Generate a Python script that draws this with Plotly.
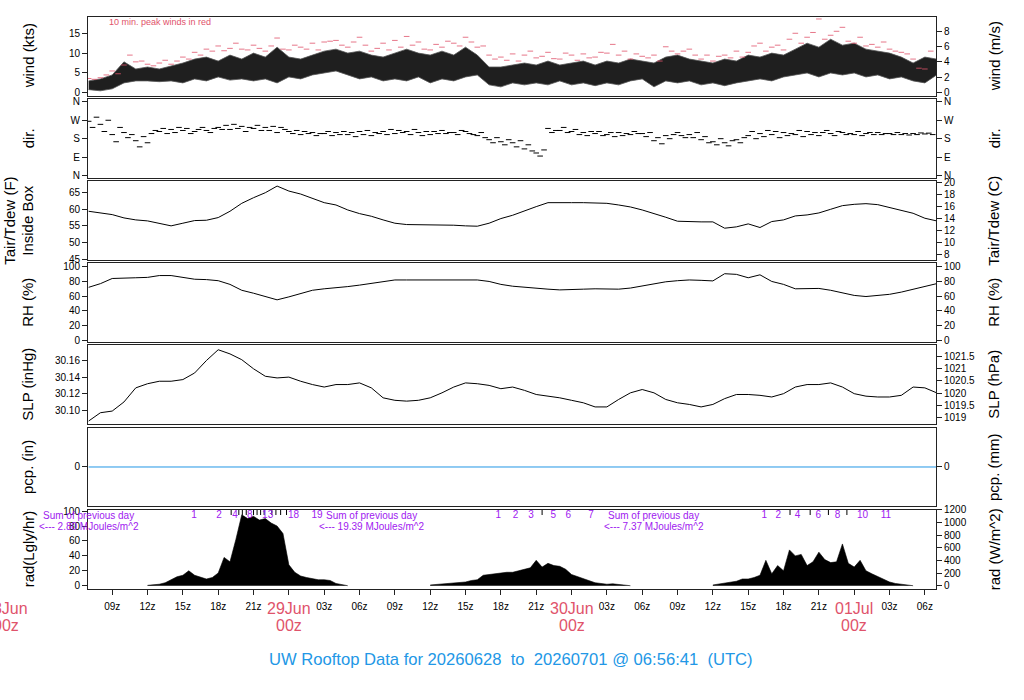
import pandas as pd
import plotly.graph_objects as go

# time base (UTC)
hours = pd.date_range("2026-06-28 07:00", periods=73, freq="h")
half_hours = pd.date_range("2026-06-28 07:00", periods=144, freq="30min")
dir_hours = pd.date_range("2026-06-28 07:00", periods=72, freq="h")
t_start = pd.Timestamp("2026-06-28 06:56:41")
t_end = pd.Timestamp("2026-07-01 06:56:41")

# wind speed (kts), hourly low / high of the 1-min trace
wind_lo = [0.8, 0.5, 1.0, 2.5, 3.0, 3.0, 2.8, 3.0, 2.5, 3.5,
           3.0, 4.0, 3.2, 3.5, 3.0, 3.5, 2.5, 4.0, 3.5, 4.5,
           5.0, 5.5, 4.5, 3.5, 4.0, 3.0, 3.5, 3.0, 4.0, 2.5,
           3.5, 3.0, 4.0, 4.5, 2.0, 1.5, 2.5, 2.0, 2.5, 2.0,
           3.0, 2.0, 2.5, 1.8, 2.5, 2.0, 3.0, 3.5, 1.5, 3.0,
           2.5, 3.0, 2.0, 2.5, 1.8, 2.5, 3.0, 3.5, 3.0, 4.0,
           4.5, 5.0, 4.0, 5.0, 4.5, 5.0, 4.0, 4.5, 3.5, 4.0,
           3.0, 2.5, 4.5]
wind_hi = [3.0, 3.5, 4.5, 7.8, 6.0, 6.5, 6.0, 6.8, 7.5, 8.5,
           9.0, 8.0, 9.5, 8.5, 10.0, 9.0, 11.5, 9.0, 8.5, 9.5,
           10.5, 11.0, 10.0, 10.5, 9.5, 9.0, 10.0, 11.0, 10.0, 9.5,
           10.5, 9.5, 11.5, 9.5, 6.5, 6.5, 7.0, 7.5, 7.0, 8.0,
           7.0, 7.5, 8.0, 7.0, 8.0, 7.5, 8.5, 8.0, 7.5, 9.0,
           9.5, 8.5, 8.0, 7.5, 8.5, 8.0, 9.5, 9.0, 10.0, 9.5,
           11.0, 12.5, 11.5, 13.5, 12.0, 12.5, 11.0, 10.5, 10.0, 9.0,
           7.5, 9.0, 8.5]
# 10 min peak winds (kts), every 30 min
peak_wind = [3.6, 3.4, 3.8, 4.5, 5.5, 4.8, 7.0, 9.5, 7.8, 8.0, 7.2, 6.8, 7.5, 8.2, 7.2, 8.0, 9.0, 8.5, 10.2, 9.5,
             11.0, 10.5, 11.8, 10.6, 11.2, 12.5, 11.0, 10.8, 12.0, 11.2, 10.5, 11.8, 13.8, 11.0, 10.8, 12.0, 11.5, 11.0, 12.5, 10.8,
             12.8, 13.0, 13.2, 12.0, 11.5, 12.8, 14.0, 12.0, 10.5, 11.2, 12.5, 10.8, 13.2, 11.5, 14.2, 12.0, 12.8, 11.0, 10.8, 12.2,
             11.5, 13.0, 12.5, 11.8, 14.0, 12.8, 11.5, 11.8, 9.5, 8.5, 9.0, 8.2, 9.8, 8.0, 9.5, 10.5, 8.8, 9.2, 10.2, 8.6,
             8.5, 10.0, 9.5, 8.2, 9.8, 8.8, 9.0, 10.2, 10.0, 12.2, 9.5, 10.5, 8.5, 9.8, 9.2, 8.8, 9.5, 8.0, 11.6, 10.5,
             9.8, 10.5, 11.0, 9.5, 8.5, 9.5, 8.0, 9.2, 9.5, 8.8, 10.5, 9.0, 10.2, 11.8, 12.5, 10.5, 11.5, 12.0, 10.8, 13.5,
             15.0, 12.5, 14.0, 15.2, 18.6, 13.5, 14.5, 15.5, 16.5, 13.0, 12.5, 14.0, 11.8, 12.2, 11.5, 12.8, 11.0, 10.5, 10.2, 9.8,
             8.5, 6.2, 6.0, 10.5]

# wind direction (deg), samples at :00, :20 and :40 of each hour
dir_a = [265, 250, 200, 210, 170, 160, 215, 225, 220, 215,
         220, 235, 225, 240, 230, 235, 210, 215, 200, 210,
         205, 210, 200, 215, 195, 215, 205, 215, 210, 200,
         220, 210, 215, 195, 175, 165, 160, 130, 110, 230,
         220, 215, 210, 205, 200, 210, 200, 205, 170, 195,
         210, 200, 175, 165, 160, 175, 195, 205, 200, 210,
         200, 215, 195, 205, 210, 200, 205, 210, 205, 200,
         205, 203]
dir_b = [235, 215, 165, 185, 140, 205, 230, 210, 230, 225,
         210, 225, 250, 215, 245, 220, 235, 205, 215, 195,
         215, 200, 210, 200, 210, 200, 220, 200, 195, 215,
         205, 200, 205, 210, 160, 150, 140, 150, 95, 210,
         235, 225, 195, 215, 210, 195, 215, 190, 185, 180,
         195, 185, 190, 150, 145, 160, 215, 190, 215, 195,
         220, 200, 210, 195, 200, 215, 210, 200, 200, 205,
         200, 207]
dir_c = [285, 270, 235, 200, 190, 220, 205, 235, 205, 235,
         230, 245, 230, 235, 220, 240, 225, 220, 205, 205,
         195, 215, 190, 220, 205, 225, 210, 225, 215, 205,
         210, 220, 200, 185, 185, 175, 170, 120, 125, 220,
         210, 200, 215, 195, 190, 205, 205, 210, 155, 200,
         185, 210, 160, 180, 170, 185, 180, 220, 185, 205,
         190, 210, 220, 215, 205, 195, 200, 205, 210, 198,
         208, 200]

# air temperature inside box (F)
temp_f = [59.4, 58.8, 58.4, 57.4, 56.8, 56.5, 55.8, 55.0, 55.8, 56.6,
          56.7, 57.5, 59.4, 61.8, 63.5, 65.0, 67.0, 65.5, 64.6, 63.2,
          62.0, 61.3, 59.8, 58.7, 57.9, 56.8, 55.8, 55.4, 55.4, 55.4,
          55.3, 55.2, 55.0, 54.9, 55.8, 57.2, 58.2, 59.6, 60.8, 62.0,
          62.1, 62.0, 62.0, 62.0, 61.8, 61.3, 60.7, 59.8, 58.8, 57.6,
          56.4, 56.2, 56.2, 56.2, 54.3, 54.7, 55.6, 54.5, 56.3, 56.8,
          58.0, 58.3, 58.9, 60.0, 61.1, 61.5, 61.7, 61.4, 60.6, 59.8,
          58.8, 57.3, 56.5]
# relative humidity (%)
rh = [72, 77, 84, 85, 85, 85.5, 88, 88, 85, 83,
      82.5, 81, 76, 68, 64, 59, 55, 59, 64, 68,
      70, 71, 73, 75, 77, 80, 82, 82, 82, 82,
      82.5, 83, 83, 82, 80, 76, 73.5, 72, 70.5, 69.5,
      68.5, 68.5, 69.5, 70, 69.5, 69.5, 71, 74, 77, 79.5,
      81, 82, 81.5, 80.7, 90.5, 89.6, 85, 89, 80, 76,
      70, 70, 70.5, 68, 65, 61, 59.5, 60.5, 62.5, 65.5,
      69, 73, 77]
# sea level pressure (inHg)
slp = [30.087, 30.097, 30.099, 30.110, 30.127, 30.132, 30.135, 30.135, 30.137, 30.145,
       30.160, 30.173, 30.168, 30.161, 30.150, 30.141, 30.139, 30.140, 30.135, 30.131,
       30.128, 30.131, 30.131, 30.133, 30.127, 30.115, 30.112, 30.111, 30.112, 30.115,
       30.121, 30.128, 30.133, 30.132, 30.130, 30.126, 30.128, 30.124, 30.119, 30.117,
       30.115, 30.112, 30.109, 30.104, 30.104, 30.113, 30.121, 30.125, 30.121, 30.113,
       30.109, 30.107, 30.104, 30.107, 30.114, 30.119, 30.119, 30.118, 30.116, 30.120,
       30.128, 30.131, 30.131, 30.133, 30.128, 30.120, 30.117, 30.116, 30.116, 30.118,
       30.128, 30.127, 30.121]
# precipitation (in) - none fell
pcp_in = [0.0] * 73

# solar radiation (Langley/hr), every 30 min from 12z each day
rad_start = ["2026-06-28 12:00", "2026-06-29 12:00", "2026-06-30 12:00"]
rad_day1 = [0.5, 1, 2, 4, 8, 12, 14, 20, 14, 12,
            9, 11, 17, 38, 32, 62, 95, 90, 93, 88,
            90, 84, 80, 70, 28, 18, 13, 11, 9, 8,
            8, 7, 3, 1, 0]
rad_day2 = [1, 1.5, 2, 2.5, 3, 4, 5, 7, 8, 14,
            15, 17, 17, 18, 18, 20, 22, 24, 34, 25,
            30, 27, 26, 22, 15, 12, 9, 7, 4, 3,
            2, 2.5, 1.5, 0.5, 0]
rad_day3 = [1, 2, 3, 5, 6, 9, 9, 11, 14, 34,
            16, 27, 20, 48, 40, 42, 27, 32, 45, 35,
            31, 32, 56, 30, 25, 34, 20, 16, 12, 8,
            5, 3, 2, 1, 0]

# running daily total (MJ/m^2) marks: hours after 28Jun 00z
mj_hours = [15.95, 18.08, 19.1, 19.43, 19.75, 20.05, 20.38, 20.68, 21.0, 21.3,
            21.6, 21.9, 22.2, 22.55, 22.9, 23.3, 23.8, 24.4, 26.4,
            41.78, 43.25, 44.55, 45.5, 46.45, 47.72, 49.65,
            64.37, 65.56, 66.55, 67.18, 68.26, 68.96, 69.81, 70.58, 71.38, 72.7, 74.69]
mj_labels = ["1", "2", "", "4", "", "", "", "8", "", "",
             "", "", "13", "", "", "", "", "18", "19",
             "1", "2", "3", "", "5", "6", "7",
             "1", "2", "", "4", "", "6", "", "8", "", "10", "11"]
sum_times = ["2026-06-28 07:00", "2026-06-29 07:00", "2026-06-30 07:00"]
sum_mj = [2.80, 19.39, 7.37]

KTS_TO_MS = 0.514444
INHG_TO_HPA = 33.8639
LY_TO_WM2 = 11.78
RED = "#DF536B"
PURPLE = "#A020F0"
BLUE = "#2297E6"
FONT = "Liberation Sans"

# panel frames in pixel rows, top to bottom
frames = [(14, 93), (96, 176), (179.3, 258.3), (261.7, 341), (344, 423.3), (426.7, 506), (509.3, 589)]
TOP, BOT, LEFT, RIGHT = 14, 589, 88, 936


def ydom(a, b):
    return [(BOT - b) / (BOT - TOP), (BOT - a) / (BOT - TOP)]


def px_x(px):
    return (px - LEFT) / (RIGHT - LEFT)


def px_y(py):
    return (BOT - py) / (BOT - TOP)


def paper_x(t):
    return (pd.Timestamp(t) - t_start) / (t_end - t_start)


def f2c(v):
    return (v - 32) / 1.8


wind_rng = [-0.7, 19.1]
dir_rng = [-13, 376]
temp_rng = [44.7, 68.4]
rh_rng = [-2.7, 104.5]
slp_rng = [30.0832, 30.1784]
pcp_rng = [-1, 1]
rad_rng = [-4.4, 101.9]

panels = [
    # left range, left ticks, left text, right range, right ticks, right text
    (wind_rng, [0, 5, 10, 15], None,
     [v * KTS_TO_MS for v in wind_rng], [0, 2, 4, 6, 8], None),
    (dir_rng, [0, 90, 180, 270, 360], ["N", "E", "S", "W", "N"],
     dir_rng, [0, 90, 180, 270, 360], ["N", "E", "S", "W", "N"]),
    (temp_rng, [45, 50, 55, 60, 65], None,
     [f2c(v) for v in temp_rng], [8, 10, 12, 14, 16, 18, 20], None),
    (rh_rng, [0, 20, 40, 60, 80, 100], None,
     rh_rng, [0, 20, 40, 60, 80, 100], None),
    (slp_rng, [30.10, 30.12, 30.14, 30.16], ["30.10", "30.12", "30.14", "30.16"],
     [v * INHG_TO_HPA for v in slp_rng], [1019, 1019.5, 1020, 1020.5, 1021, 1021.5],
     ["1019", "1019.5", "1020", "1020.5", "1021", "1021.5"]),
    (pcp_rng, [0], None, [v * 25.4 for v in pcp_rng], [0], None),
    (rad_rng, [0, 20, 40, 60, 80, 100], None,
     [v * LY_TO_WM2 for v in rad_rng], [0, 200, 400, 600, 800, 1000, 1200], None),
]

fig = go.Figure()
layout = {}
tick_font = dict(family=FONT, size=10, color="black")

xt = pd.date_range("2026-06-28 09:00", "2026-07-01 06:00", freq="3h")
xt_text = ["" if t.hour == 0 else "%02dz" % t.hour for t in xt]

for i, (lr, lt, ltt, rr, rt, rtt) in enumerate(panels, start=1):
    xid = "x" if i == 1 else "x%d" % i
    yid = "y" if i == 1 else "y%d" % i
    bottom = i == 7
    xa = dict(type="date", range=[t_start, t_end], anchor=yid,
              showline=True, mirror=True, linecolor="#222", linewidth=1,
              showgrid=False, zeroline=False, showticklabels=bottom,
              ticks="outside" if bottom else "", ticklen=5, tickcolor="#222",
              tickvals=xt, ticktext=xt_text, tickfont=tick_font, ticklabelstandoff=3)
    if i > 1:
        xa["matches"] = "x"
    layout["xaxis" if i == 1 else "xaxis%d" % i] = xa
    dom = ydom(*frames[i - 1])
    layout["yaxis" if i == 1 else "yaxis%d" % i] = dict(
        domain=dom, range=lr, anchor=xid,
        showline=True, mirror=True, linecolor="#222", linewidth=1,
        showgrid=False, zeroline=False, ticks="outside", ticklen=5,
        tickcolor="#222", tickvals=lt, ticktext=ltt if ltt else [str(v) for v in lt],
        tickfont=tick_font)
    layout["yaxis%d" % (i + 7)] = dict(
        domain=dom, range=rr, overlaying=yid, anchor=xid, side="right",
        showline=False, showgrid=False, zeroline=False,
        ticks="outside", ticklen=5, tickcolor="#222",
        tickvals=rt, ticktext=rtt if rtt else [str(v) for v in rt],
        tickfont=tick_font)
    # placeholder trace so every right-hand axis gets drawn
    fig.add_trace(go.Scatter(x=[t_start], y=[None], mode="lines", hoverinfo="skip",
                             xaxis=xid, yaxis="y%d" % (i + 7)))

# wind: dark band between hourly low and high
fig.add_trace(go.Scatter(x=hours, y=wind_lo, mode="lines", line=dict(color="#555", width=0.8),
                         xaxis="x", yaxis="y"))
fig.add_trace(go.Scatter(x=hours, y=wind_hi, mode="lines", line=dict(color="#555", width=0.8),
                         fill="tonexty", fillcolor="rgba(0,0,0,0.88)", xaxis="x", yaxis="y"))
fig.add_trace(go.Scatter(x=half_hours, y=peak_wind, mode="markers",
                         marker=dict(symbol="line-ew", size=4, line=dict(color=RED, width=0.8)),
                         xaxis="x", yaxis="y"))

# direction
for off, vals in [(0, dir_a), (20, dir_b), (40, dir_c)]:
    fig.add_trace(go.Scatter(x=dir_hours + pd.Timedelta(minutes=off), y=vals, mode="markers",
                             marker=dict(symbol="line-ew", size=4, line=dict(color="black", width=1)),
                             xaxis="x2", yaxis="y2"))

fig.add_trace(go.Scatter(x=hours, y=temp_f, mode="lines", line=dict(color="black", width=1),
                         xaxis="x3", yaxis="y3"))
fig.add_trace(go.Scatter(x=hours, y=rh, mode="lines", line=dict(color="black", width=1),
                         xaxis="x4", yaxis="y4"))
fig.add_trace(go.Scatter(x=hours, y=slp, mode="lines", line=dict(color="black", width=1),
                         xaxis="x5", yaxis="y5"))
fig.add_trace(go.Scatter(x=hours, y=pcp_in, mode="lines", line=dict(color=BLUE, width=1),
                         xaxis="x6", yaxis="y6"))

# radiation
for start, vals in zip(rad_start, [rad_day1, rad_day2, rad_day3]):
    tt = pd.date_range(start, periods=len(vals), freq="30min")
    fig.add_trace(go.Scatter(x=tt, y=vals, mode="lines", line=dict(color="black", width=0.6),
                             fill="tozeroy", fillcolor="black", xaxis="x7", yaxis="y7"))

base = pd.Timestamp("2026-06-28 00:00")
mj_t = [base + pd.Timedelta(hours=h) for h in mj_hours]
fig.add_trace(go.Scatter(x=[t for t, s in zip(mj_t, mj_labels) if s == ""],
                         y=[99.5] * mj_labels.count(""), mode="markers",
                         marker=dict(symbol="line-ns", size=5, line=dict(color="black", width=1)),
                         xaxis="x7", yaxis="y7"))
fig.add_trace(go.Scatter(x=[t for t, s in zip(mj_t, mj_labels) if s],
                         y=[94.3] * (len(mj_labels) - mj_labels.count("")),
                         text=[s for s in mj_labels if s], mode="text",
                         textfont=dict(family=FONT, size=10, color=PURPLE),
                         cliponaxis=False, xaxis="x7", yaxis="y7"))

annotations = []
for t, v in zip(sum_times, sum_mj):
    annotations.append(dict(x=t, y=94.3, xref="x7", yref="y7", text="Sum of previous day",
                            xanchor="center", yanchor="middle", showarrow=False,
                            font=dict(family=FONT, size=10, color=PURPLE)))
    annotations.append(dict(x=t, y=79.7, xref="x7", yref="y7",
                            text="&lt;--- %.2f MJoules/m^2" % v,
                            xanchor="center", yanchor="middle", showarrow=False,
                            font=dict(family=FONT, size=10, color=PURPLE)))

annotations.append(dict(x=px_x(107), y=px_y(19), xref="paper", yref="paper",
                        xanchor="left", yanchor="middle",
                        text="10 min. peak winds in red", showarrow=False,
                        font=dict(family=FONT, size=9, color=RED)))

# day labels under the 00z ticks
for day in ["2026-06-28", "2026-06-29", "2026-06-30", "2026-07-01"]:
    d = pd.Timestamp(day)
    annotations.append(dict(x=paper_x(d), y=px_y(609), xref="paper", yref="paper",
                            xanchor="center", yanchor="middle",
                            text=d.strftime("%d%b"), showarrow=False,
                            font=dict(family=FONT, size=16, color=RED)))
    annotations.append(dict(x=paper_x(d), y=px_y(626), xref="paper", yref="paper",
                            xanchor="center", yanchor="middle",
                            text="00z", showarrow=False,
                            font=dict(family=FONT, size=16, color=RED)))

left_titles = [["wind (kts)"], ["dir."], ["Tair/Tdew (F)", "Inside Box"], ["RH (%)"],
               ["SLP (inHg)"], ["pcp. (in)"], ["rad(Lgly/hr)"]]
right_titles = ["wind (m/s)", "dir.", "Tair/Tdew (C)", "RH (%)", "SLP (hPa)", "pcp. (mm)", "rad (W/m^2)"]
for (a, b), lt, rt in zip(frames, left_titles, right_titles):
    yc = px_y((a + b) / 2)
    xs = [28] if len(lt) == 1 else [10, 28]
    for x, txt in zip(xs, lt):
        annotations.append(dict(x=px_x(x), y=yc, xref="paper", yref="paper", text=txt,
                                xanchor="center", yanchor="middle",
                                textangle=-90, showarrow=False,
                                font=dict(family=FONT, size=15, color="black")))
    annotations.append(dict(x=px_x(994), y=yc, xref="paper", yref="paper", text=rt,
                            xanchor="center", yanchor="middle",
                            textangle=-90, showarrow=False,
                            font=dict(family=FONT, size=15, color="black")))

annotations.append(dict(x=px_x(511), y=px_y(660), xref="paper", yref="paper",
                        xanchor="center", yanchor="middle",
                        text="UW Rooftop Data for 20260628\u00a0\u00a0to\u00a0\u00a020260701 @ 06:56:41\u00a0\u00a0(UTC)",
                        showarrow=False, font=dict(family=FONT, size=16.6, color=BLUE)))

fig.update_layout(**layout)
fig.update_layout(width=1024, height=700, showlegend=False,
                  margin=dict(l=LEFT, r=1024 - RIGHT, t=TOP, b=700 - BOT),
                  paper_bgcolor="white", plot_bgcolor="white",
                  annotations=annotations)

# drop the default page margin so the figure sits at the window corner
fig.write_html("out.html", config={"displayModeBar": False},
               post_script="document.body.style.margin='0px';")
